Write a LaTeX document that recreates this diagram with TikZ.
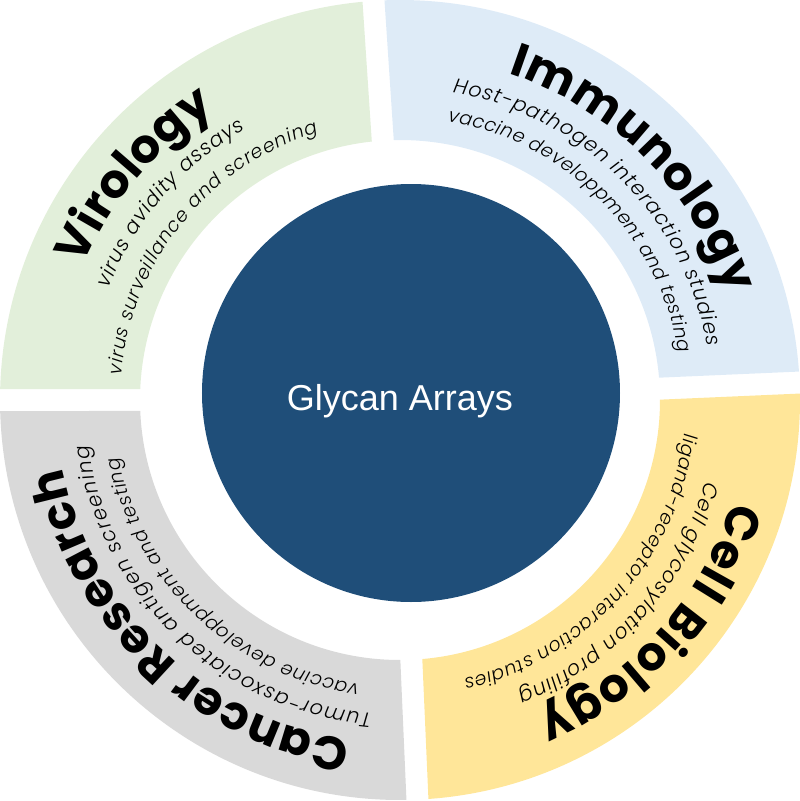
\documentclass[tikz,border=0pt]{standalone}
\usepackage{fontspec}
\usetikzlibrary{decorations.text}
\newfontfamily\titlefont{Poppins}
\IfFontExistsTF{Poppins Light Italic}{\newfontfamily\subfont{Poppins Light Italic}}{\newfontfamily\subfont{Poppins}[UprightFont=* Italic]}
\newfontfamily\centerfont{Liberation Sans}
\definecolor{viro}{HTML}{E2EFDA}
\definecolor{immu}{HTML}{DEEBF7}
\definecolor{cellb}{HTML}{FFE699}
\definecolor{canc}{HTML}{D9D9D9}
\definecolor{core}{HTML}{1F4E79}
\newcommand\ringsector[3]{%
  \fill[#1] ({#2+1.576}:400pt) arc[start angle={#2+1.576}, end angle={#3-1.576}, radius=400pt]
    -- ({#3-2.425}:260pt) arc[start angle={#3-2.425}, end angle={#2+2.425}, radius=260pt] -- cycle;}
\newcommand\textarc[4]{%
  \path[#1] ({#2}:#4) arc[start angle=#2, end angle=#3, radius=#4];}
\tikzset{
  titletext/.style={decorate, decoration={text along path, text align={fit to path},
    text={|\titlefont\bfseries\fontsize{47}{47}\selectfont|#1}}},
  subtext/.style={decorate, decoration={text along path, text align={fit to path},
    text={|\subfont\fontsize{20.5}{20.5}\selectfont|#1}}},
  subtextnarrow/.style={decorate, decoration={text along path, text align={fit to path},
    text={|\subfont\fontsize{19}{19}\selectfont|#1}}},
}
\begin{document}
\begin{tikzpicture}
\useasboundingbox (-400pt,-401pt) rectangle (400pt,400pt);
% ring sectors
\ringsector{immu}{2.5}{93.8}
\ringsector{viro}{93.8}{180}
\ringsector{canc}{180}{272.5}
\ringsector{cellb}{272.5}{362.5}
% core
\fill[core] (11pt,7pt) circle[radius=209pt];
\node[text=white, font=\centerfont\fontsize{36}{36}\selectfont] (glycan) at (0pt,-1pt) {Glycan Arrays};
% Virology
\textarc{titletext=Virology}{157}{122.5}{344pt}
\textarc{subtext=virus avidity assays}{159.1}{119.7}{312pt}
\textarc{subtextnarrow=virus surveillance and screening}{174.9}{107}{280pt}
% Immunology
\textarc{titletext=Immunology}{71.7}{17.9}{344pt}
\textarc{subtext=Host-pathogen interaction studies}{80.3}{9.8}{312pt}
\textarc{subtextnarrow=vaccine developpment and testing}{80.3}{9.6}{283pt}
% Cell Biology
\textarc{titletext=Cell Biology}{-16.9}{-66.6}{347pt}
\textarc{subtext=Cell glycosylation profiling}{-15}{-68}{316pt}
\textarc{subtextnarrow=ligand-receptor interaction studies}{-6.7}{-77.1}{286pt}
% Cancer Research
\textarc{titletext=Cancer Research}{261.7}{191.3}{344pt}
\textarc{subtext=Tumor-asxociated antigen screening}{264.9}{188.3}{315pt}
\textarc{subtextnarrow=vaccine developpment and testing}{261.8}{191.6}{287pt}
\end{tikzpicture}
\end{document}
